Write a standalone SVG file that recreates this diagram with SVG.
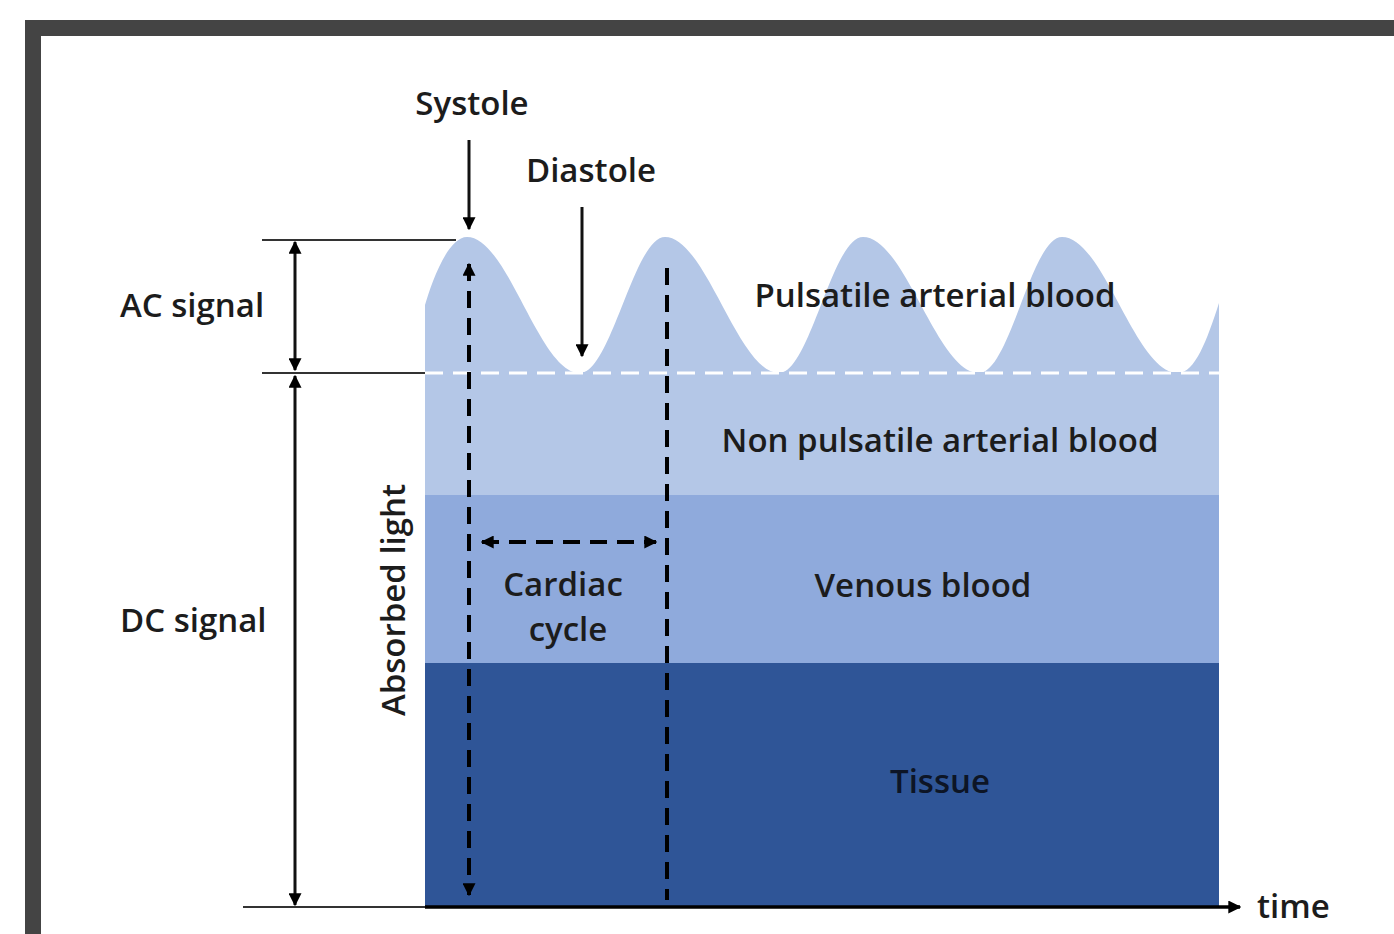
<svg xmlns="http://www.w3.org/2000/svg" width="1394" height="934" viewBox="0 0 1394 934">
<defs>
<style>
text{font-family:"Open Sans","Noto Sans","Liberation Sans",sans-serif;font-size:33px;font-weight:600;fill:#1c1c1c}
.c{text-anchor:middle}
.ln{stroke:#111;stroke-width:3;fill:none}
.thin{stroke:#333;stroke-width:2;fill:none}
.dash{stroke:#000;stroke-width:4;stroke-dasharray:17 10;fill:none}
</style>
<marker id="ah" viewBox="0 0 10 10" refX="9" refY="5" markerWidth="13" markerHeight="13" markerUnits="userSpaceOnUse" orient="auto-start-reverse">
<path d="M0,0 L10,5 L0,10 z" fill="#000"/>
</marker>
</defs>
<rect width="1394" height="934" fill="#fff"/>
<rect id="frame" x="33" y="28" width="1420" height="1000" fill="none" stroke="#444" stroke-width="16"/>

<g id="tissue"><rect x="425" y="663" width="794" height="244" fill="#2f5597"/><text class="c" x="940" y="793" style="fill:#0d1526">Tissue</text></g>
<g id="venous"><rect x="425" y="495" width="794" height="168" fill="#8faadc"/><text class="c" x="923" y="597">Venous blood</text></g>
<g id="nonpulsatile"><rect x="425" y="372" width="794" height="123" fill="#b4c7e7"/><text class="c" x="940" y="452">Non pulsatile arterial blood</text></g>
<g id="pulsatile">
<path fill="#b4c7e7" d="M425,374 L425,305 C431,285 447,237 467,237 C508,237 539,373 580,373 C611,373 634,237 665,237 C706,237 738,373 779,373 C810,373 832,237 863,237 C905,237 937,373 979,373 C1010,373 1031,237 1062,237 C1104,237 1135,373 1178,373 C1195,373 1207,340 1219,303 L1219,374 Z"/>
<line x1="425" y1="373" x2="1219" y2="373" stroke="#fff" stroke-width="3" stroke-dasharray="18 10"/>
<text class="c" x="935" y="307">Pulsatile arterial blood</text>
</g>

<g id="connectors">
<line class="thin" x1="262" y1="240" x2="456" y2="240"/>
<line class="thin" x1="262" y1="373" x2="425" y2="373"/>
<line class="thin" x1="243" y1="907" x2="425" y2="907"/>
<line x1="425" y1="907" x2="1240" y2="907" stroke="#000" stroke-width="3.5" marker-end="url(#ah)"/>
<line class="ln" x1="295" y1="242" x2="295" y2="370" marker-start="url(#ah)" marker-end="url(#ah)"/>
<line class="ln" x1="295" y1="376" x2="295" y2="905" marker-start="url(#ah)" marker-end="url(#ah)"/>
<line class="ln" x1="469" y1="140" x2="469" y2="229" marker-end="url(#ah)"/>
<line class="ln" x1="582" y1="207" x2="582" y2="356" marker-end="url(#ah)"/>
<line class="dash" x1="469" y1="264" x2="469" y2="895" marker-start="url(#ah)" marker-end="url(#ah)"/>
<line class="dash" x1="667" y1="268" x2="667" y2="900"/>
<line class="dash" x1="482" y1="542" x2="656" y2="542" marker-start="url(#ah)" marker-end="url(#ah)"/>
</g>

<g id="labels">
<text class="c" x="472" y="115">Systole</text>
<text class="c" x="591" y="182">Diastole</text>
<text x="120" y="317">AC signal</text>
<text x="120" y="632">DC signal</text>
<text class="c" x="563" y="596">Cardiac</text>
<text class="c" x="568" y="641">cycle</text>
<text class="c" transform="translate(405,600) rotate(-90)">Absorbed light</text>
<text x="1257" y="918">time</text>
</g>
</svg>
